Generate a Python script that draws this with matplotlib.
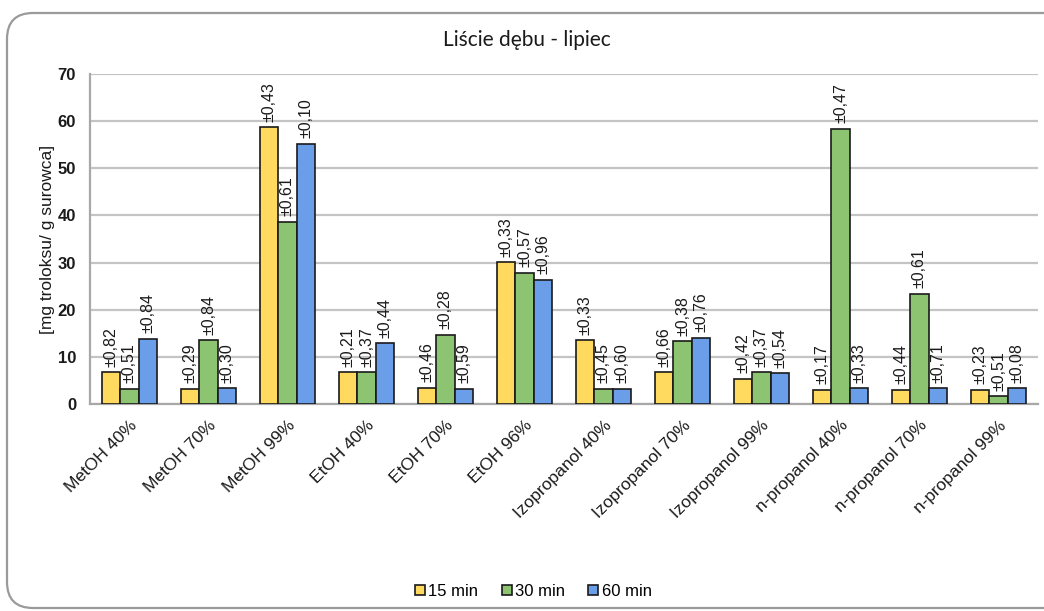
import matplotlib
matplotlib.use("Agg")
import matplotlib.pyplot as plt
import numpy as np
from matplotlib.patches import FancyBboxPatch
from matplotlib.lines import Line2D

categories = ["MetOH 40%", "MetOH 70%", "MetOH 99%", "EtOH 40%", "EtOH 70%", "EtOH 96%",
              "Izopropanol 40%", "Izopropanol 70%", "Izopropanol 99%",
              "n-propanol 40%", "n-propanol 70%", "n-propanol 99%"]
series_names = ["15 min", "30 min", "60 min"]

vals_15 = [6.7, 3.2, 58.7, 6.7, 3.5, 30.1, 13.5, 6.7, 5.3, 3.0, 3.0, 3.0]
vals_30 = [3.2, 13.5, 38.6, 6.7, 14.7, 27.8, 3.2, 13.3, 6.7, 58.4, 23.4, 1.6]
vals_60 = [13.8, 3.3, 55.2, 12.9, 3.2, 26.4, 3.2, 14.0, 6.5, 3.3, 3.3, 3.3]

err_15 = [0.82, 0.29, 0.43, 0.21, 0.46, 0.33, 0.33, 0.66, 0.42, 0.17, 0.44, 0.23]
err_30 = [0.51, 0.84, 0.61, 0.37, 0.28, 0.57, 0.45, 0.38, 0.37, 0.47, 0.61, 0.51]
err_60 = [0.84, 0.30, 0.10, 0.44, 0.59, 0.96, 0.60, 0.76, 0.54, 0.33, 0.71, 0.08]

colors = ["#FFDA5F", "#8DC471", "#6A9EE8"]
TXT = "#1a1a1a"

W, H = 1044, 611
fig = plt.figure(figsize=(W / 100, H / 100), dpi=100)
fig.patch.set_facecolor("white")

# rounded chart frame
frame = FancyBboxPatch((7 / W, 3 / H), 1.2, (H - 16) / H,
                       boxstyle="round,pad=0,rounding_size=0.025",
                       transform=fig.transFigure, facecolor="none",
                       edgecolor="#9a9a9a", linewidth=1.6, mutation_aspect=W / H,
                       clip_on=False)
fig.patches.append(frame)

ax = fig.add_axes([90 / W, 1 - 404 / H, (1038 - 90) / W, (404 - 74) / H])

x = np.arange(len(categories))
bw = 0.228
all_vals = [vals_15, vals_30, vals_60]
all_errs = [err_15, err_30, err_60]
for i, (vals, errs, c) in enumerate(zip(all_vals, all_errs, colors)):
    pos = x + (i - 1) * bw
    ax.bar(pos, vals, width=bw, color=c, edgecolor=TXT, linewidth=1.2, zorder=3)
    for px, v, e in zip(pos, vals, errs):
        ax.annotate("±" + f"{e:.2f}".replace(".", ","), (px, v),
                    xytext=(0, 4), textcoords="offset points",
                    rotation=90, ha="center", va="bottom",
                    fontsize=11.5, family="Liberation Sans", color=TXT)

ax.set_xlim(-0.5, len(categories) - 0.5)
ax.set_ylim(0, 70)
ax.set_yticks(np.arange(0, 71, 10))
ax.yaxis.grid(True, color="#c4c4c4", linewidth=1.6, zorder=0)
ax.set_axisbelow(True)
for s in ["top", "right"]:
    ax.spines[s].set_visible(False)
for s in ["left", "bottom"]:
    ax.spines[s].set_color("#a8a8a8")
    ax.spines[s].set_linewidth(1.6)
ax.tick_params(length=0)
ax.set_xticks(x)
ax.set_xticklabels(categories, rotation=45, ha="right", rotation_mode="anchor",
                   fontsize=12.5, family="Liberation Sans", color=TXT)
for lab in ax.get_yticklabels():
    lab.set_fontsize(12)
    lab.set_family("Liberation Sans")
    lab.set_fontweight("bold")
    lab.set_color(TXT)
ax.tick_params(axis="x", pad=10)
ax.tick_params(axis="y", pad=10)

ax.set_ylabel("[mg troloksu/ g surowca]", fontsize=12.5, family="Liberation Sans",
              color=TXT, labelpad=2)

fig.text(0.505, 1 - 40 / H, "Liście dębu - lipiec", ha="center", va="center",
         fontsize=15, family="Lato", color=TXT)

handles = [Line2D([], [], marker="s", linestyle="none", markersize=7.5,
                  markerfacecolor=c, markeredgecolor=TXT, markeredgewidth=1.2)
           for c in colors]
fig.legend(handles, series_names, loc="center", bbox_to_anchor=(0.51, 1 - 591 / H),
           ncol=3, frameon=False, handletextpad=0.1, columnspacing=1.3,
           handlelength=0.8, prop={"family": "Liberation Sans", "size": 12})

fig.savefig("out.png", dpi=100, facecolor="white")
